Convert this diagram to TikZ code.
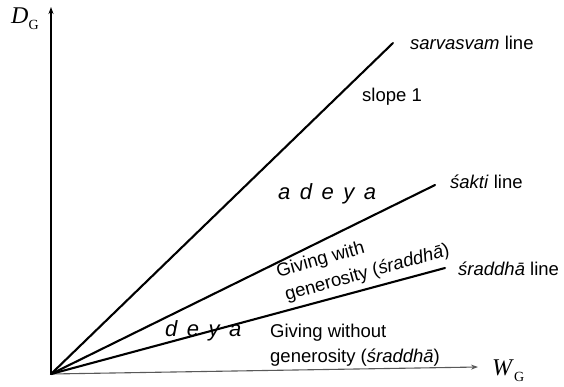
\documentclass[tikz,border=0pt]{standalone}
\usepackage{fontspec}
\setmainfont{Liberation Sans}
\newfontfamily\serifvar{Liberation Serif}
\usetikzlibrary{arrows.meta}
\newcommand{\gap}{\hspace{9.5pt}}
\begin{document}
\begin{tikzpicture}[x=1pt,y=-1pt,
  lbl/.style={anchor=base west,inner sep=0pt,font=\fontsize{18.5}{22}\selectfont},
  para/.style={anchor=north west,inner sep=0pt,align=left,font=\fontsize{18.5}{25}\selectfont},
  big/.style={anchor=base west,inner sep=0pt,font=\fontsize{22}{26}\selectfont\itshape},
  axis/.style={line width=1.1pt,-{Stealth[length=7pt,width=5pt]}},
  ray/.style={line width=2.1pt,line cap=round}]
\useasboundingbox (0,0) rectangle (564,386);
\coordinate (O) at (51,374);
\coordinate (ytip) at (51,7);
\coordinate (xtip) at (478,367);
\coordinate (sv) at (393,43);
\coordinate (sk) at (435,185);
\coordinate (sr) at (445,268);
\draw[axis,black] (O) -- (ytip);
\draw[axis,black!65] (O) -- (xtip);
\draw[ray] (O) -- (sv);
\draw[ray] (O) -- (sk);
\draw[ray] (O) -- (sr);
\node[anchor=base west,inner sep=0pt] (dg) at (11,23) {\serifvar\fontsize{24}{28}\selectfont\textit{D}\raisebox{-6pt}{\fontsize{14}{16}\selectfont G}};
\node[anchor=base west,inner sep=0pt] (wg) at (492,375) {\serifvar\fontsize{24}{28}\selectfont\textit{W}\raisebox{-6pt}{\fontsize{14}{16}\selectfont G}};
\node[lbl] (svl) at (410,49) {\textit{sarvasvam} line};
\node[lbl] (skl) at (450,188) {\textit{śakti} line};
\node[lbl] (srl) at (458,275) {\textit{śraddhā} line};
\node[lbl] (slope) at (362,101) {slope 1};
\node[big] (adeya) at (278,199) {a\gap d\gap e\gap y\gap a};
\node[big] (deya) at (165,336) {d\gap e\gap y\gap a};
\node[para,rotate=15.5] (gw) at (274.5,264) {Giving with\\ \hspace*{2pt}generosity (\textit{śraddhā})};
\node[para] (gn) at (270,323.5) {Giving without\\generosity (\textit{śraddhā})};
\end{tikzpicture}
\end{document}
